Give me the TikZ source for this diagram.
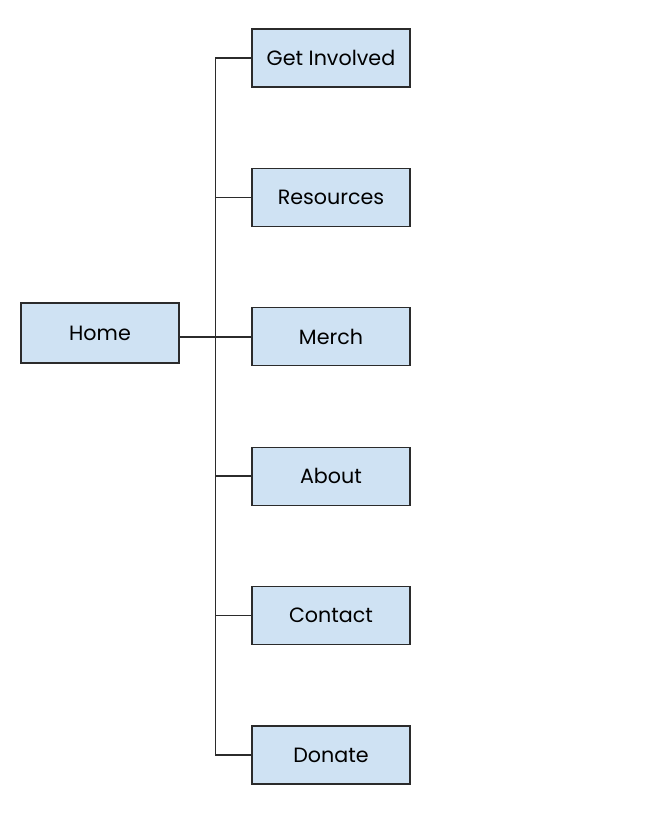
\documentclass[tikz,border=0pt]{standalone}
\usepackage{fontspec}
\setmainfont{Poppins}
\usetikzlibrary{positioning}
\definecolor{pageblue}{HTML}{CFE2F3}
\definecolor{edgegray}{HTML}{2B2B2B}

\begin{document}
\begin{tikzpicture}[x=0.75pt,y=-0.75pt,
    page/.style={draw=edgegray,line width=1pt,fill=pageblue,minimum width=118.5pt,minimum height=43.5pt,inner sep=0pt,font=\fontsize{15.5}{17}\selectfont},
    link/.style={draw=edgegray,line width=1.1pt}]
    \useasboundingbox (0,0) rectangle (670,814);
    \node[page,minimum height=45pt] (home) at (100,333) {Home};
    \foreach \name/\txt [count=\i from 0] in {involved/Get Involved,resources/Resources,merch/Merch,about/About,contact/Contact,donate/Donate}
        \node[page] (\name) at (331,58+139.4*\i) {\txt};
    % tree lines
    \draw[link] (involved.west) -- ++(-36,0) coordinate (trunk) |- (donate.west);
    \foreach \name in {resources,merch,about,contact}
        \draw[link] (\name.west) -- (\name.west -| trunk);
    \draw[link] (home.east |- merch.west) -- (merch.west);
\end{tikzpicture}
\end{document}
